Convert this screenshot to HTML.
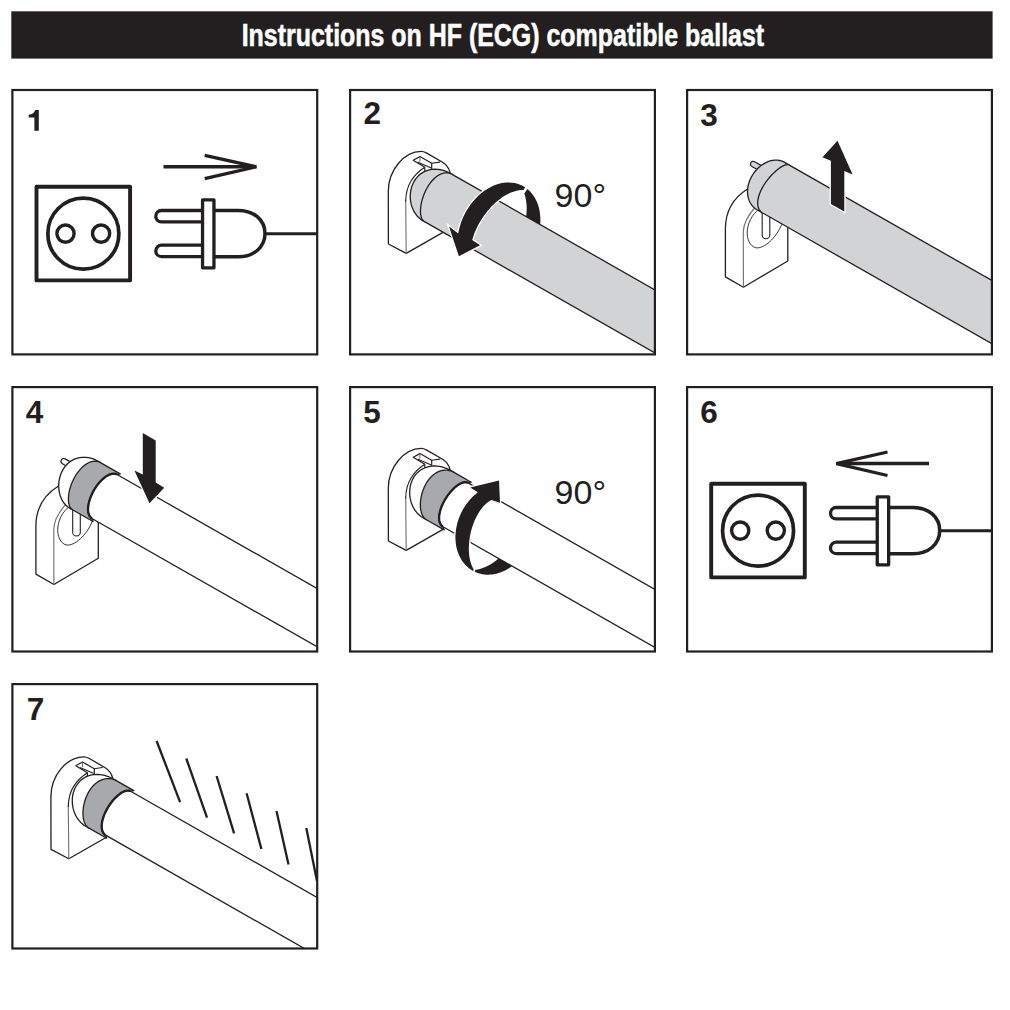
<!DOCTYPE html>
<html><head><meta charset="utf-8"><style>html,body{margin:0;padding:0;background:#fff;width:1010px;height:1010px;overflow:hidden}svg{display:block}</style></head>
<body><svg width="1010" height="1010" viewBox="0 0 1010 1010">
<defs><clipPath id="cp1"><rect x="12.4" y="90.0" width="304.8" height="264.4"/></clipPath><clipPath id="cp2"><rect x="350.1" y="90.0" width="304.8" height="264.4"/></clipPath><clipPath id="cp3"><rect x="687.1" y="90.0" width="304.8" height="264.4"/></clipPath><clipPath id="cp4"><rect x="12.4" y="387.1" width="304.8" height="264.4"/></clipPath><clipPath id="cp5"><rect x="350.1" y="387.1" width="304.8" height="264.4"/></clipPath><clipPath id="cp6"><rect x="687.1" y="387.1" width="304.8" height="264.4"/></clipPath><clipPath id="cp7"><rect x="12.4" y="684.1" width="304.8" height="264.4"/></clipPath></defs>
<rect x="11.3" y="11.3" width="981.3" height="47.3" fill="#231f20"/>
<text x="502.9" y="45.9" text-anchor="middle" font-family="Liberation Sans" font-weight="bold" font-size="31.3" fill="#fff" stroke="#fff" stroke-width="0.55" transform="translate(502.9,0) scale(0.797,1) translate(-502.9,0)">Instructions on HF (ECG) compatible ballast</text>
<path d="M34.4,130.7 L38.8,130.7 L38.8,110.1 L35.2,110.1 C34.5,112.8 32.5,114.6 28.7,114.8 L28.7,117.6 L34.4,117.6 Z" fill="#231f20"/>
<text x="363.5" y="123.8" font-family="Liberation Sans" font-weight="bold" font-size="31.5" fill="#231f20">2</text>
<text x="700.2" y="125.7" font-family="Liberation Sans" font-weight="bold" font-size="31.5" fill="#231f20">3</text>
<text x="25.7" y="422.9" font-family="Liberation Sans" font-weight="bold" font-size="31.5" fill="#231f20">4</text>
<text x="363.2" y="422.7" font-family="Liberation Sans" font-weight="bold" font-size="31.5" fill="#231f20">5</text>
<text x="700.2" y="422.9" font-family="Liberation Sans" font-weight="bold" font-size="31.5" fill="#231f20">6</text>
<text x="26.7" y="720.2" font-family="Liberation Sans" font-weight="bold" font-size="31.5" fill="#231f20">7</text>
<g transform="translate(0,0)"><rect x="36.5" y="186.8" width="93.6" height="93.6" fill="none" stroke="#231f20" stroke-width="3.9" stroke-linejoin="round"/><circle cx="83.35" cy="233.65" r="35.5" fill="none" stroke="#231f20" stroke-width="3.7"/><circle cx="65.5" cy="233.6" r="8.6" fill="none" stroke="#231f20" stroke-width="3.4"/><circle cx="101.1" cy="233.6" r="8.6" fill="none" stroke="#231f20" stroke-width="3.4"/><path d="M203,210.5 L161.5,210.5 A5.700000000000003,5.700000000000003 0 0 0 161.5,221.9 L203,221.9" fill="none" stroke="#231f20" stroke-width="3.3"/><path d="M203,245.2 L161.50000000000003,245.2 A5.700000000000017,5.700000000000017 0 0 0 161.50000000000003,256.6 L203,256.6" fill="none" stroke="#231f20" stroke-width="3.3"/><path d="M213.7,210.4 L238,210.4 C254,210.4 265,220 265,233.6 C265,247 254,256.8 238,256.8 L213.7,256.8" fill="none" stroke="#231f20" stroke-width="3.5"/><rect x="202.55" y="199.85" width="11.4" height="68" fill="#fff" stroke="#231f20" stroke-width="3.3" stroke-linejoin="round"/><line x1="265" y1="233.7" x2="317" y2="233.7" stroke="#231f20" stroke-width="3.0"/><path d="M163.5,166.8 L254,166.8" stroke="#231f20" stroke-width="3.5" fill="none"/><path d="M204.7,155.3 L256.4,166.8 L204.7,178.7" stroke="#231f20" stroke-width="3.3" fill="none" stroke-linejoin="miter"/></g>
<g transform="translate(674.7,297)"><rect x="36.5" y="186.8" width="93.6" height="93.6" fill="none" stroke="#231f20" stroke-width="3.9" stroke-linejoin="round"/><circle cx="83.35" cy="233.65" r="35.5" fill="none" stroke="#231f20" stroke-width="3.7"/><circle cx="65.5" cy="233.6" r="8.6" fill="none" stroke="#231f20" stroke-width="3.4"/><circle cx="101.1" cy="233.6" r="8.6" fill="none" stroke="#231f20" stroke-width="3.4"/><path d="M203,210.5 L161.5,210.5 A5.700000000000003,5.700000000000003 0 0 0 161.5,221.9 L203,221.9" fill="none" stroke="#231f20" stroke-width="3.3"/><path d="M203,245.2 L161.50000000000003,245.2 A5.700000000000017,5.700000000000017 0 0 0 161.50000000000003,256.6 L203,256.6" fill="none" stroke="#231f20" stroke-width="3.3"/><path d="M213.7,210.4 L238,210.4 C254,210.4 265,220 265,233.6 C265,247 254,256.8 238,256.8 L213.7,256.8" fill="none" stroke="#231f20" stroke-width="3.5"/><rect x="202.55" y="199.85" width="11.4" height="68" fill="#fff" stroke="#231f20" stroke-width="3.3" stroke-linejoin="round"/><line x1="265" y1="233.7" x2="317" y2="233.7" stroke="#231f20" stroke-width="3.0"/></g>
<path d="M929,463.6 L839,463.6" stroke="#231f20" stroke-width="3.5" fill="none"/><path d="M887.5,452 L836.4,463.6 L887.5,475.5" stroke="#231f20" stroke-width="3.3" fill="none"/>
<g transform="translate(0,0)" stroke-linejoin="round" stroke-linecap="round"><path d="M406.2,253.4 L388.4,244 L388.3,191.5 C388.3,170 404,151.6 421.3,151.4 C423.5,151.4 425,152.2 426.3,152.9 L442.6,162.3 C446,164.5 449,168 450,171.7 L450,232 L443.4,232.1 Z" fill="#fff" stroke="none"/><path d="M443.4,232.1 L406.2,253.4 L388.4,244 L388.3,191.5 C388.3,170 404,151.6 421.3,151.4 C423.5,151.4 425,152.2 426.3,152.9 L442.6,162.3 C446,164.5 449,168 450,172.5" fill="none" stroke="#231f20" stroke-width="1.3"/><path d="M406.2,253.4 L405.7,200" fill="none" stroke="#6d6e71" stroke-width="1.1"/><path d="M405.7,201 C405.8,193 408,186 411,181 C414.5,175.5 419,171 424.1,167.8" fill="none" stroke="#231f20" stroke-width="1.1"/><path d="M424.8,171.7 L424.8,167.3 L413.2,160.3 L419.9,156.6 L431.7,163.3 L431.7,168.5" fill="none" stroke="#231f20" stroke-width="1.2"/><path d="M431.7,163.3 L439.7,162.1 M417.9,162.3 L430.7,167.8" fill="none" stroke="#231f20" stroke-width="1.1"/><path d="M419.9,156.8 L419.9,161.3" fill="none" stroke="#6d6e71" stroke-width="1.0"/></g>
<path d="M527.37,188.95 529.04,190.4 530.59,191.97 532.02,193.64 533.33,195.4 534.52,197.23 535.59,199.13 536.54,201.07 537.37,203.05 538.09,205.05 538.69,207.07 539.2,209.1 539.61,211.12 539.92,213.13 540.15,215.13 540.3,217.11 540.37,219.06 540.37,220.99 540.31,222.89 540.18,224.76 540,226.6 539.77,228.4 539.49,230.18 539.16,231.93 538.78,233.64 538.37,235.32 537.91,236.98 537.42,238.6 536.9,240.2 536.33,241.77 535.74,243.32 535.11,244.84 534.45,246.34 533.75,247.82 533.02,249.28 532.26,250.72 531.47,252.14 530.64,253.54 529.78,254.92 528.88,256.28 527.95,257.63 L514.25,246.13 514.76,245.4 515.26,244.67 515.74,243.93 516.22,243.19 516.69,242.44 517.16,241.68 517.61,240.91 518.06,240.12 518.5,239.32 518.94,238.51 519.38,237.67 519.81,236.82 520.23,235.94 520.66,235.04 521.07,234.11 521.49,233.16 521.9,232.17 522.31,231.14 522.71,230.08 523.1,228.97 523.49,227.82 523.87,226.62 524.25,225.37 524.61,224.06 524.95,222.69 525.28,221.26 525.59,219.75 525.87,218.18 526.12,216.52 526.34,214.79 526.5,212.98 526.62,211.09 526.68,209.11 526.66,207.06 526.55,204.93 526.36,202.72 526.05,200.46 525.62,198.15 525.06,195.8 524.35,193.44 Z" fill="#231f20"/>
<g clip-path="url(#cp2)"><g transform="translate(436.2,196.8) rotate(29.68)" stroke-linejoin="round"><path d="M0.55,27.4 -2.23,27.23 -4.99,26.71 -7.7,25.86 -10.33,24.69 -12.87,23.2 -15.27,21.42 -17.53,19.37 -19.6,17.08 -21.46,14.58 -23.09,11.89 -24.45,9.05 -25.53,6.1 -26.3,3.07 -26.75,0 -26.85,-3.07 -26.6,-6.1 -25.98,-9.05 -25.01,-11.89 -23.67,-14.58 -21.99,-17.08 -19.98,-19.37 -17.67,-21.42 -15.08,-23.2 -12.26,-24.69 -9.23,-25.86 -6.06,-26.71 -2.78,-27.23 0.55,-27.4 L2.19,-27.4 L2.19,27.4 Z" fill="#d1d3d4" stroke="#231f20" stroke-width="1.3"/><path d="M2.19,-27.4 L500,-27.4 L500,27.4 L2.19,27.4 0.79,27.23 -0.61,26.71 -1.98,25.86 -3.33,24.69 -4.63,23.2 -5.88,21.42 -7.06,19.37 -8.16,17.08 -9.16,14.58 -10.05,11.89 -10.82,9.05 -11.44,6.1 -11.91,3.07 -12.21,0 -12.33,-3.07 -12.26,-6.1 -11.99,-9.05 -11.52,-11.89 -10.85,-14.58 -9.98,-17.08 -8.93,-19.37 -7.7,-21.42 -6.31,-23.2 -4.79,-24.69 -3.15,-25.86 -1.42,-26.71 0.37,-27.23 2.19,-27.4 Z" fill="#d1d3d4" stroke="#231f20" stroke-width="1.3"/></g></g>
<path d="M525.07,187.27 522.64,185.83 520.09,184.64 517.43,183.71 514.69,183.04 511.91,182.63 509.12,182.46 506.33,182.54 503.57,182.83 500.87,183.34 498.23,184.02 495.68,184.87 493.22,185.86 490.86,186.97 488.6,188.19 486.45,189.49 484.39,190.87 482.45,192.32 480.6,193.82 478.84,195.36 477.18,196.94 475.6,198.55 474.11,200.19 472.7,201.85 471.36,203.53 470.09,205.23 468.89,206.95 467.76,208.69 466.69,210.45 465.68,212.23 464.72,214.03 463.82,215.86 462.97,217.7 462.18,219.58 461.45,221.48 460.76,223.41 460.13,225.38 459.56,227.38 459.05,229.42 458.6,231.49 458.21,233.61 L449,226.5 458.9,256.2 480.1,245.3 L472.18,239.9 472.71,238.14 473.26,236.49 473.81,234.93 474.37,233.45 474.93,232.05 475.5,230.72 476.07,229.43 476.64,228.2 477.22,227.01 477.8,225.85 478.4,224.72 479,223.61 479.61,222.52 480.24,221.44 480.89,220.37 481.56,219.3 482.25,218.23 482.97,217.15 483.72,216.06 484.51,214.95 485.34,213.82 486.22,212.67 487.16,211.48 488.16,210.26 489.24,209 490.41,207.7 491.68,206.35 493.06,204.95 494.57,203.5 496.23,202.01 498.05,200.47 500.07,198.9 502.28,197.32 504.72,195.75 507.39,194.25 510.28,192.85 513.38,191.64 516.66,190.7 520.05,190.1 523.48,189.92 Z" fill="#231f20" stroke="#fff" stroke-width="2.6" stroke-linejoin="miter" paint-order="stroke"/>
<text x="554.6" y="207.4" font-family="Liberation Sans" font-size="34" fill="#231f20">90°</text>
<g transform="translate(0,297)" stroke-linejoin="round" stroke-linecap="round"><path d="M406.2,253.4 L388.4,244 L388.3,191.5 C388.3,170 404,151.6 421.3,151.4 C423.5,151.4 425,152.2 426.3,152.9 L442.6,162.3 C446,164.5 449,168 450,171.7 L450,232 L443.4,232.1 Z" fill="#fff" stroke="none"/><path d="M443.4,232.1 L406.2,253.4 L388.4,244 L388.3,191.5 C388.3,170 404,151.6 421.3,151.4 C423.5,151.4 425,152.2 426.3,152.9 L442.6,162.3 C446,164.5 449,168 450,172.5" fill="none" stroke="#231f20" stroke-width="1.3"/><path d="M406.2,253.4 L405.7,200" fill="none" stroke="#6d6e71" stroke-width="1.1"/><path d="M405.7,201 C405.8,193 408,186 411,181 C414.5,175.5 419,171 424.1,167.8" fill="none" stroke="#231f20" stroke-width="1.1"/><path d="M424.8,171.7 L424.8,167.3 L413.2,160.3 L419.9,156.6 L431.7,163.3 L431.7,168.5" fill="none" stroke="#231f20" stroke-width="1.2"/><path d="M431.7,163.3 L439.7,162.1 M417.9,162.3 L430.7,167.8" fill="none" stroke="#231f20" stroke-width="1.1"/><path d="M419.9,156.8 L419.9,161.3" fill="none" stroke="#6d6e71" stroke-width="1.0"/></g>
<path d="M474.64,571.74 476.52,572.56 478.45,573.24 480.42,573.79 482.43,574.21 484.45,574.5 486.48,574.65 488.51,574.68 490.54,574.59 492.54,574.38 494.52,574.05 496.47,573.63 498.38,573.11 500.25,572.49 502.08,571.8 503.86,571.02 505.59,570.18 507.26,569.26 508.89,568.29 510.46,567.27 511.98,566.19 513.44,565.06 514.85,563.9 516.22,562.69 517.53,561.45 518.79,560.17 520,558.85 521.16,557.51 522.28,556.13 523.35,554.73 524.38,553.3 525.36,551.84 526.29,550.35 527.18,548.83 528.03,547.28 528.83,545.71 529.59,544.11 530.3,542.48 530.97,540.82 531.59,539.13 532.16,537.41 L514.22,534.24 513.9,535.17 513.56,536.09 513.21,536.99 512.84,537.88 512.47,538.76 512.08,539.64 511.67,540.51 511.25,541.38 510.81,542.24 510.36,543.11 509.88,543.98 509.39,544.85 508.87,545.72 508.33,546.6 507.76,547.48 507.17,548.37 506.54,549.28 505.88,550.19 505.19,551.11 504.46,552.04 503.68,552.99 502.86,553.95 501.99,554.92 501.06,555.9 500.07,556.9 499.03,557.9 497.91,558.92 496.72,559.93 495.45,560.95 494.1,561.96 492.66,562.97 491.13,563.95 489.5,564.91 487.78,565.83 485.96,566.7 484.05,567.51 482.04,568.24 479.93,568.88 477.75,569.41 475.5,569.81 Z" fill="#231f20"/>
<g clip-path="url(#cp5)"><g transform="translate(436.2,493.8) rotate(29.68)" stroke-linejoin="round"><path d="M0.9,27.4 -2.01,27.23 -4.89,26.71 -7.71,25.86 -10.46,24.69 -13.11,23.2 -15.62,21.42 -17.97,19.37 -20.13,17.08 -22.08,14.58 -23.77,11.89 -25.2,9.05 -26.33,6.1 -27.14,3.07 -27.6,0 -27.71,-3.07 -27.44,-6.1 -26.8,-9.05 -25.78,-11.89 -24.39,-14.58 -22.63,-17.08 -20.54,-19.37 -18.12,-21.42 -15.42,-23.2 -12.47,-24.69 -9.31,-25.86 -6,-26.71 -2.58,-27.23 0.9,-27.4 L4.4,-27.4 L4.4,27.4 Z" fill="#fff" stroke="#231f20" stroke-width="1.3"/><path d="M4.4,27.4 2.66,27.23 0.92,26.71 -0.79,25.86 -2.46,24.69 -4.09,23.2 -5.65,21.42 -7.13,19.37 -8.52,17.08 -9.78,14.58 -10.92,11.89 -11.89,9.05 -12.7,6.1 -13.3,3.07 -13.7,0 -13.87,-3.07 -13.8,-6.1 -13.47,-9.05 -12.9,-11.89 -12.07,-14.58 -10.99,-17.08 -9.67,-19.37 -8.12,-21.42 -6.37,-23.2 -4.44,-24.69 -2.37,-25.86 -0.18,-26.71 2.09,-27.23 4.4,-27.4 L24.7,-27.4 L22.2,-25.3 20.97,-25.14 19.76,-24.67 18.57,-23.88 17.42,-22.79 16.32,-21.42 15.28,-19.78 14.31,-17.89 13.43,-15.77 12.65,-13.46 11.98,-10.98 11.42,-8.36 10.99,-5.63 10.7,-2.83 10.55,0 10.55,2.83 10.69,5.63 10.99,8.36 11.43,10.98 12.02,13.46 12.75,15.77 13.61,17.89 14.6,19.78 15.69,21.42 16.87,22.79 18.13,23.88 19.46,24.67 20.82,25.14 22.2,25.3 L24.7,27.4 Z" fill="#a7a9ac" stroke="#231f20" stroke-width="1.3"/><path d="M22.2,-25.3 L500,-25.3 L500,25.3 L22.2,25.3 20.82,25.14 19.46,24.67 18.13,23.88 16.87,22.79 15.69,21.42 14.6,19.78 13.61,17.89 12.75,15.77 12.02,13.46 11.43,10.98 10.99,8.36 10.69,5.63 10.55,2.83 10.55,0 10.7,-2.83 10.99,-5.63 11.42,-8.36 11.98,-10.98 12.65,-13.46 13.43,-15.77 14.31,-17.89 15.28,-19.78 16.32,-21.42 17.42,-22.79 18.57,-23.88 19.76,-24.67 20.97,-25.14 22.2,-25.3 Z" fill="#fff" stroke="#231f20" stroke-width="1.3"/><path d="M22.2,25.3 20.82,25.14 19.46,24.67 18.13,23.88 16.87,22.79 15.69,21.42 14.6,19.78 13.61,17.89 12.75,15.77 12.02,13.46 11.43,10.98 10.99,8.36 10.69,5.63 10.55,2.83 10.55,0 10.7,-2.83 10.99,-5.63 11.42,-8.36 11.98,-10.98 12.65,-13.46 13.43,-15.77 14.31,-17.89 15.28,-19.78 16.32,-21.42 17.42,-22.79 18.57,-23.88 19.76,-24.67 20.97,-25.14 22.2,-25.3" fill="none" stroke="#231f20" stroke-width="2.3"/></g></g>
<path d="M473.02,570.92 470.81,569.57 468.72,568.04 466.77,566.34 464.98,564.5 463.35,562.54 461.88,560.47 460.57,558.31 459.43,556.09 458.45,553.82 457.62,551.53 456.94,549.21 456.39,546.9 455.98,544.59 455.69,542.29 455.51,540.01 455.44,537.76 455.47,535.54 455.59,533.34 455.8,531.18 456.09,529.05 456.46,526.95 456.91,524.88 457.43,522.85 458.02,520.84 458.69,518.86 459.42,516.91 460.21,514.98 461.08,513.08 462.02,511.2 463.03,509.34 464.12,507.51 465.28,505.7 466.52,503.91 467.85,502.16 469.26,500.43 470.76,498.73 472.36,497.07 474.05,495.45 475.85,493.88 477.75,492.37 L470.2,487.4 499,480.4 500,502.7 L491.51,499.95 489.6,501.01 487.84,502.23 486.22,503.56 484.75,504.95 483.41,506.37 482.2,507.79 481.1,509.21 480.09,510.61 479.18,511.99 478.34,513.34 477.56,514.68 476.85,515.99 476.18,517.28 475.56,518.57 474.98,519.84 474.43,521.1 473.91,522.37 473.42,523.65 472.96,524.93 472.51,526.24 472.09,527.57 471.68,528.93 471.29,530.34 470.92,531.79 470.57,533.3 470.24,534.88 469.92,536.54 469.64,538.29 469.38,540.14 469.16,542.11 468.99,544.22 468.88,546.48 468.84,548.9 468.91,551.49 469.11,554.25 469.48,557.19 470.07,560.26 470.93,563.42 472.11,566.58 473.67,569.62 Z" fill="#231f20" stroke="#fff" stroke-width="2.6" stroke-linejoin="miter" paint-order="stroke"/>
<text x="554.6" y="503.8" font-family="Liberation Sans" font-size="34" fill="#231f20">90°</text>
<g transform="translate(-337.4,605.4)" stroke-linejoin="round" stroke-linecap="round"><path d="M406.2,253.4 L388.4,244 L388.3,191.5 C388.3,170 404,151.6 421.3,151.4 C423.5,151.4 425,152.2 426.3,152.9 L442.6,162.3 C446,164.5 449,168 450,171.7 L450,232 L443.4,232.1 Z" fill="#fff" stroke="none"/><path d="M443.4,232.1 L406.2,253.4 L388.4,244 L388.3,191.5 C388.3,170 404,151.6 421.3,151.4 C423.5,151.4 425,152.2 426.3,152.9 L442.6,162.3 C446,164.5 449,168 450,172.5" fill="none" stroke="#231f20" stroke-width="1.3"/><path d="M406.2,253.4 L405.7,200" fill="none" stroke="#6d6e71" stroke-width="1.1"/><path d="M405.7,201 C405.8,193 408,186 411,181 C414.5,175.5 419,171 424.1,167.8" fill="none" stroke="#231f20" stroke-width="1.1"/><path d="M424.8,171.7 L424.8,167.3 L413.2,160.3 L419.9,156.6 L431.7,163.3 L431.7,168.5" fill="none" stroke="#231f20" stroke-width="1.2"/><path d="M431.7,163.3 L439.7,162.1 M417.9,162.3 L430.7,167.8" fill="none" stroke="#231f20" stroke-width="1.1"/><path d="M419.9,156.8 L419.9,161.3" fill="none" stroke="#6d6e71" stroke-width="1.0"/></g>
<g clip-path="url(#cp7)"><g transform="translate(98.8,802.2) rotate(29.68)" stroke-linejoin="round"><path d="M0.9,27.4 -2.01,27.23 -4.89,26.71 -7.71,25.86 -10.46,24.69 -13.11,23.2 -15.62,21.42 -17.97,19.37 -20.13,17.08 -22.08,14.58 -23.77,11.89 -25.2,9.05 -26.33,6.1 -27.14,3.07 -27.6,0 -27.71,-3.07 -27.44,-6.1 -26.8,-9.05 -25.78,-11.89 -24.39,-14.58 -22.63,-17.08 -20.54,-19.37 -18.12,-21.42 -15.42,-23.2 -12.47,-24.69 -9.31,-25.86 -6,-26.71 -2.58,-27.23 0.9,-27.4 L4.4,-27.4 L4.4,27.4 Z" fill="#fff" stroke="#231f20" stroke-width="1.3"/><path d="M4.4,27.4 2.66,27.23 0.92,26.71 -0.79,25.86 -2.46,24.69 -4.09,23.2 -5.65,21.42 -7.13,19.37 -8.52,17.08 -9.78,14.58 -10.92,11.89 -11.89,9.05 -12.7,6.1 -13.3,3.07 -13.7,0 -13.87,-3.07 -13.8,-6.1 -13.47,-9.05 -12.9,-11.89 -12.07,-14.58 -10.99,-17.08 -9.67,-19.37 -8.12,-21.42 -6.37,-23.2 -4.44,-24.69 -2.37,-25.86 -0.18,-26.71 2.09,-27.23 4.4,-27.4 L24.7,-27.4 L22.2,-25.3 20.97,-25.14 19.76,-24.67 18.57,-23.88 17.42,-22.79 16.32,-21.42 15.28,-19.78 14.31,-17.89 13.43,-15.77 12.65,-13.46 11.98,-10.98 11.42,-8.36 10.99,-5.63 10.7,-2.83 10.55,0 10.55,2.83 10.69,5.63 10.99,8.36 11.43,10.98 12.02,13.46 12.75,15.77 13.61,17.89 14.6,19.78 15.69,21.42 16.87,22.79 18.13,23.88 19.46,24.67 20.82,25.14 22.2,25.3 L24.7,27.4 Z" fill="#a7a9ac" stroke="#231f20" stroke-width="1.3"/><path d="M22.2,-25.3 L500,-25.3 L500,25.3 L22.2,25.3 20.82,25.14 19.46,24.67 18.13,23.88 16.87,22.79 15.69,21.42 14.6,19.78 13.61,17.89 12.75,15.77 12.02,13.46 11.43,10.98 10.99,8.36 10.69,5.63 10.55,2.83 10.55,0 10.7,-2.83 10.99,-5.63 11.42,-8.36 11.98,-10.98 12.65,-13.46 13.43,-15.77 14.31,-17.89 15.28,-19.78 16.32,-21.42 17.42,-22.79 18.57,-23.88 19.76,-24.67 20.97,-25.14 22.2,-25.3 Z" fill="#fff" stroke="#231f20" stroke-width="1.3"/><path d="M22.2,25.3 20.82,25.14 19.46,24.67 18.13,23.88 16.87,22.79 15.69,21.42 14.6,19.78 13.61,17.89 12.75,15.77 12.02,13.46 11.43,10.98 10.99,8.36 10.69,5.63 10.55,2.83 10.55,0 10.7,-2.83 10.99,-5.63 11.42,-8.36 11.98,-10.98 12.65,-13.46 13.43,-15.77 14.31,-17.89 15.28,-19.78 16.32,-21.42 17.42,-22.79 18.57,-23.88 19.76,-24.67 20.97,-25.14 22.2,-25.3" fill="none" stroke="#231f20" stroke-width="2.3"/></g></g>
<line x1="156.6" y1="741" x2="180.1" y2="802.2" stroke="#231f20" stroke-width="2.3" clip-path="url(#cp7)"/>
<line x1="186.3" y1="758.5" x2="207" y2="817.7" stroke="#231f20" stroke-width="2.3" clip-path="url(#cp7)"/>
<line x1="216.6" y1="776" x2="234.1" y2="833.4" stroke="#231f20" stroke-width="2.3" clip-path="url(#cp7)"/>
<line x1="246.6" y1="793.3" x2="261.4" y2="849" stroke="#231f20" stroke-width="2.3" clip-path="url(#cp7)"/>
<line x1="276.5" y1="811.1" x2="288.5" y2="864.6" stroke="#231f20" stroke-width="2.3" clip-path="url(#cp7)"/>
<line x1="306.3" y1="828" x2="317" y2="881" stroke="#231f20" stroke-width="2.3" clip-path="url(#cp7)"/>
<g transform="translate(0,0)" stroke-linejoin="round" stroke-linecap="round"><path d="M743.4,287.3 L725.4,276.9 L725.4,229 C725.4,212 733,198 747,188.8 L787.8,215 L787.8,261 Z" fill="#fff" stroke="none"/><path d="M787.8,215 L787.8,261 L743.4,287.3 L725.4,276.9 L725.4,229 C725.4,212 733,198 748,188.8" fill="none" stroke="#231f20" stroke-width="1.3"/><path d="M743.4,287.3 L743.3,232 C743.5,224 748,215 756,206.5" fill="none" stroke="#6d6e71" stroke-width="1.1"/><path d="M759.4,208.9 C752,214 747,224 747.2,233.3 C747.4,242 752,248 757.5,247.9 C766,247.5 778,236 782.5,222" fill="none" stroke="#231f20" stroke-width="0.9"/><path d="M762.2,211 L762.2,235 A3.8,3.8 0 0 0 769.8,235 L769.8,215" fill="none" stroke="#231f20" stroke-width="1.1"/></g>
<g clip-path="url(#cp3)"><g transform="translate(773.3,187.5) rotate(29.68)" stroke-linejoin="round"><path d="M-29,-13.2 L-18,-13.2 L-18,-7.7 L-29,-7.7 A2.75,2.75 0 0 1 -29,-13.2 Z" fill="#d1d3d4" stroke="#231f20" stroke-width="1.2"/><path d="M-3.06,27.4 -5.5,27.23 -7.92,26.71 -10.26,25.86 -12.51,24.69 -14.63,23.2 -16.59,21.42 -18.37,19.37 -19.94,17.08 -21.3,14.58 -22.41,11.89 -23.27,9.05 -23.87,6.1 -24.2,3.07 -24.26,0 -24.06,-3.07 -23.59,-6.1 -22.87,-9.05 -21.91,-11.89 -20.72,-14.58 -19.32,-17.08 -17.73,-19.37 -15.97,-21.42 -14.05,-23.2 -12.01,-24.69 -9.86,-25.86 -7.64,-26.71 -5.36,-27.23 -3.06,-27.4 L2.87,-27.4 L2.87,27.4 Z" fill="#d1d3d4" stroke="#231f20" stroke-width="1.3"/><path d="M2.87,-27.4 L500,-27.4 L500,27.4 L2.87,27.4 1.26,27.23 -0.32,26.71 -1.84,25.86 -3.27,24.69 -4.59,23.2 -5.78,21.42 -6.82,19.37 -7.69,17.08 -8.39,14.58 -8.91,11.89 -9.25,9.05 -9.41,6.1 -9.39,3.07 -9.21,0 -8.88,-3.07 -8.41,-6.1 -7.82,-9.05 -7.12,-11.89 -6.32,-14.58 -5.46,-17.08 -4.52,-19.37 -3.54,-21.42 -2.52,-23.2 -1.47,-24.69 -0.4,-25.86 0.68,-26.71 1.77,-27.23 2.87,-27.4 Z" fill="#d1d3d4" stroke="#231f20" stroke-width="1.3"/></g></g>
<path d="M837.5,140.7 L852.6,174.6 L844.3,171 L844.3,211.6 L830.9,204 L830.9,160.7 L822.5,157.2 Z" fill="#231f20" stroke="#fff" stroke-width="2.6" paint-order="stroke"/>
<g transform="translate(-689.5,297.2)" stroke-linejoin="round" stroke-linecap="round"><path d="M743.4,287.3 L725.4,276.9 L725.4,229 C725.4,212 733,198 747,188.8 L787.8,215 L787.8,261 Z" fill="#fff" stroke="none"/><path d="M787.8,215 L787.8,261 L743.4,287.3 L725.4,276.9 L725.4,229 C725.4,212 733,198 748,188.8" fill="none" stroke="#231f20" stroke-width="1.3"/><path d="M743.4,287.3 L743.3,232 C743.5,224 748,215 756,206.5" fill="none" stroke="#6d6e71" stroke-width="1.1"/><path d="M759.4,208.9 C752,214 747,224 747.2,233.3 C747.4,242 752,248 757.5,247.9 C766,247.5 778,236 782.5,222" fill="none" stroke="#231f20" stroke-width="0.9"/><path d="M762.2,211 L762.2,235 A3.8,3.8 0 0 0 769.8,235 L769.8,215" fill="none" stroke="#231f20" stroke-width="1.1"/></g>
<g clip-path="url(#cp4)"><g transform="translate(83.8,484.7) rotate(29.68)" stroke-linejoin="round"><path d="M-29,-13.2 L-18,-13.2 L-18,-7.7 L-29,-7.7 A2.75,2.75 0 0 1 -29,-13.2 Z" fill="#fff" stroke="#231f20" stroke-width="1.2"/><path d="M-0.18,27.4 -2.76,27.23 -5.32,26.71 -7.83,25.86 -10.27,24.69 -12.61,23.2 -14.84,21.42 -16.93,19.37 -18.85,17.08 -20.58,14.58 -22.08,11.89 -23.35,9.05 -24.35,6.1 -25.07,3.07 -25.48,0 -25.57,-3.07 -25.34,-6.1 -24.77,-9.05 -23.86,-11.89 -22.63,-14.58 -21.07,-17.08 -19.21,-19.37 -17.06,-21.42 -14.67,-23.2 -12.05,-24.69 -9.25,-25.86 -6.3,-26.71 -3.27,-27.23 -0.18,-27.4 L3.05,-27.4 L3.05,27.4 Z" fill="#fff" stroke="#231f20" stroke-width="1.3"/><path d="M3.05,27.4 1.55,27.23 0.06,26.71 -1.4,25.86 -2.82,24.69 -4.18,23.2 -5.48,21.42 -6.69,19.37 -7.8,17.08 -8.8,14.58 -9.67,11.89 -10.39,9.05 -10.97,6.1 -11.38,3.07 -11.61,0 -11.66,-3.07 -11.52,-6.1 -11.18,-9.05 -10.65,-11.89 -9.93,-14.58 -9.03,-17.08 -7.95,-19.37 -6.7,-21.42 -5.32,-23.2 -3.8,-24.69 -2.18,-25.86 -0.49,-26.71 1.27,-27.23 3.05,-27.4 L26.3,-27.4 L23.8,-25.3 22.43,-25.14 21.07,-24.67 19.75,-23.88 18.48,-22.79 17.27,-21.42 16.15,-19.78 15.12,-17.89 14.21,-15.77 13.41,-13.46 12.75,-10.98 12.22,-8.36 11.84,-5.63 11.61,-2.83 11.53,0 11.61,2.83 11.84,5.63 12.22,8.36 12.75,10.98 13.41,13.46 14.21,15.77 15.12,17.89 16.15,19.78 17.27,21.42 18.48,22.79 19.75,23.88 21.07,24.67 22.43,25.14 23.8,25.3 L26.3,27.4 Z" fill="#a7a9ac" stroke="#231f20" stroke-width="1.3"/><path d="M23.8,-25.3 L500,-25.3 L500,25.3 L23.8,25.3 22.43,25.14 21.07,24.67 19.75,23.88 18.48,22.79 17.27,21.42 16.15,19.78 15.12,17.89 14.21,15.77 13.41,13.46 12.75,10.98 12.22,8.36 11.84,5.63 11.61,2.83 11.53,0 11.61,-2.83 11.84,-5.63 12.22,-8.36 12.75,-10.98 13.41,-13.46 14.21,-15.77 15.12,-17.89 16.15,-19.78 17.27,-21.42 18.48,-22.79 19.75,-23.88 21.07,-24.67 22.43,-25.14 23.8,-25.3 Z" fill="#fff" stroke="#231f20" stroke-width="1.3"/><path d="M23.8,25.3 22.43,25.14 21.07,24.67 19.75,23.88 18.48,22.79 17.27,21.42 16.15,19.78 15.12,17.89 14.21,15.77 13.41,13.46 12.75,10.98 12.22,8.36 11.84,5.63 11.61,2.83 11.53,0 11.61,-2.83 11.84,-5.63 12.22,-8.36 12.75,-10.98 13.41,-13.46 14.21,-15.77 15.12,-17.89 16.15,-19.78 17.27,-21.42 18.48,-22.79 19.75,-23.88 21.07,-24.67 22.43,-25.14 23.8,-25.3" fill="none" stroke="#231f20" stroke-width="2.3"/></g></g>
<path d="M142.8,432.9 L155.7,440.5 L155.7,482.4 L164.2,487.7 L149.5,503.3 L134.4,470.4 L142.8,474.4 Z" fill="#231f20" stroke="#fff" stroke-width="2.6" paint-order="stroke"/>
<rect x="12.4" y="90.0" width="304.8" height="264.4" fill="none" stroke="#231f20" stroke-width="2.2"/>
<rect x="350.1" y="90.0" width="304.8" height="264.4" fill="none" stroke="#231f20" stroke-width="2.2"/>
<rect x="687.1" y="90.0" width="304.8" height="264.4" fill="none" stroke="#231f20" stroke-width="2.2"/>
<rect x="12.4" y="387.1" width="304.8" height="264.4" fill="none" stroke="#231f20" stroke-width="2.2"/>
<rect x="350.1" y="387.1" width="304.8" height="264.4" fill="none" stroke="#231f20" stroke-width="2.2"/>
<rect x="687.1" y="387.1" width="304.8" height="264.4" fill="none" stroke="#231f20" stroke-width="2.2"/>
<rect x="12.4" y="684.1" width="304.8" height="264.4" fill="none" stroke="#231f20" stroke-width="2.2"/>
</svg></body></html>
